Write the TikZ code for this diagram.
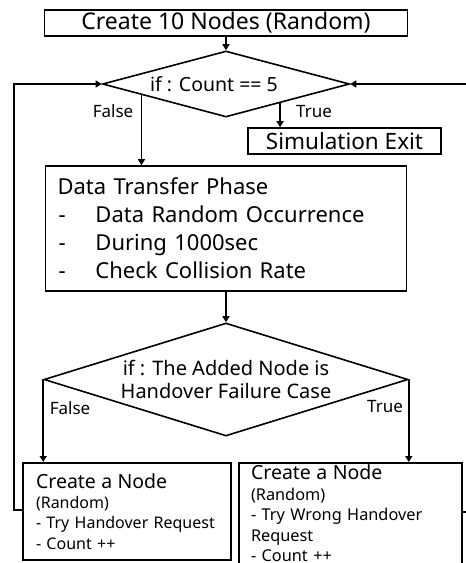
\documentclass[tikz,border=0pt]{standalone}
\usepackage{fontspec}
\setmainfont{Noto Sans}
\usetikzlibrary{shapes.geometric,arrows.meta,calc}
\begin{document}
\begin{tikzpicture}[x=1pt,y=-1pt,
  every path/.style={line width=1.6pt},
  box/.style={draw,line width=1.6pt,rectangle,inner sep=0pt,align=center},
  dec/.style={draw,line width=1.6pt,diamond,inner sep=0pt,align=center},
  lbl/.style={font=\fontsize{17}{19}\selectfont,inner sep=0pt},
  arr/.style={-{Triangle[width=7pt,length=6pt]},line width=1.6pt}]
\useasboundingbox (0,0) rectangle (466,563);
\node[box,minimum width=363pt,minimum height=26pt,font=\fontsize{23}{26}\selectfont] (top) at (226,23) {Create 10 Nodes (Random)};
\node[dec,minimum width=247pt,minimum height=66pt,aspect=3.74,font=\fontsize{19.5}{22}\selectfont] (d1) at (226,84) {if : Count == 5\hspace*{24pt}};
\node[box,minimum width=193pt,minimum height=26pt,font=\fontsize{22.5}{26}\selectfont] (exit) at (344.5,141) {Simulation Exit};
\node[box,minimum width=361pt,minimum height=125pt,text width=337pt,align=left,inner xsep=12pt,font=\fontsize{22}{28}\selectfont] (data) at (226,228.5)
 {Data Transfer Phase\\
  \makebox[38pt][l]{\hspace{1pt}-}Data Random Occurrence\\
  \makebox[38pt][l]{\hspace{1pt}-}During 1000sec\\
  \makebox[38pt][l]{\hspace{1pt}-}Check Collision Rate};
\node[dec,minimum width=364pt,minimum height=113pt,aspect=3.22,font=\fontsize{20}{22.5}\selectfont] (d2) at (226,379.5) {if : The Added Node is\\Handover Failure Case};
\node[box,anchor=north,minimum width=208pt,minimum height=97pt,text width=182pt,align=left,inner xsep=13pt,font=\fontsize{16}{20.3}\selectfont] (lb) at (127,462)
 {\mbox{\fontsize{19.5}{20}\selectfont Create a Node}\\
  \mbox{(Random)}\\
  \mbox{- Try Handover Request}\\
  \mbox{- Count ++}};
\node[box,anchor=north,minimum width=223pt,text width=199pt,align=left,inner xsep=12pt,inner ysep=2pt,font=\fontsize{16.3}{20.5}\selectfont] (rb) at (350.5,462)
 {\mbox{\fontsize{19.5}{20}\selectfont Create a Node}\\
  \mbox{(Random)}\\
  \mbox{- Try Wrong Handover}\\
  \mbox{Request}\\
  \mbox{- Count ++}};
% connectors
\draw[arr] (top.south) -- (d1.north);
\coordinate (f1) at ($(d1.west)!0.32!(d1.south)$);
\coordinate (t1) at ($(d1.south)!0.435!(d1.east)$);
\draw[arr] (f1) -- (f1 |- data.north);
\draw[arr] (t1) -- (t1 |- exit.north);
\draw[arr] (data.south) -- (d2.north);
\draw[arr] (d2.west) -- (d2.west |- lb.north);
\draw[arr] (d2.east) -- (d2.east |- rb.north);
\coordinate (lx) at (14,0);
\coordinate (rx) at (480,0);
\draw[arr] ([yshift=-48pt]lb.north west) -| (lx |- d1.west) -- (d1.west);
\draw[arr] ([yshift=-50pt]rb.north east) -| (rx |- d1.east) -- (d1.east);
% labels
\node[lbl] (lf1) at (113,111) {False};
\node[lbl] (lt1) at (314,112) {True};
\node[lbl] (lf2) at (70,408) {False};
\node[lbl] (lt2) at (385,407) {True};
\end{tikzpicture}
\end{document}
